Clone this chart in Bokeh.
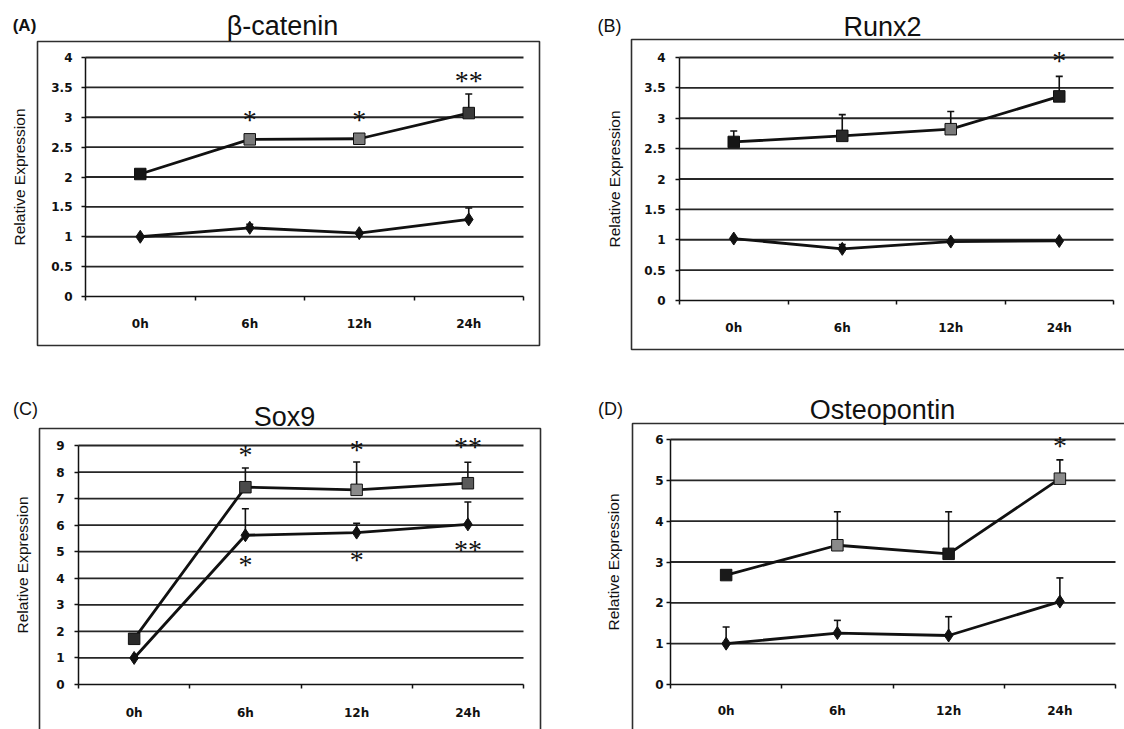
from bokeh.plotting import figure
from bokeh.models import (Range1d, FixedTicker, Whisker, TeeHead, ColumnDataSource,
                          LabelSet, Label, BoxAnnotation)
from bokeh.layouts import column, row
from bokeh.embed import file_html
from bokeh.resources import INLINE

# ---------------- data ----------------
categories = ["0h", "6h", "12h", "24h"]

bcat_treated = [2.05, 2.63, 2.64, 3.07]
bcat_treated_err = [0.0, 0.0, 0.0, 0.32]
bcat_control = [1.00, 1.15, 1.06, 1.29]
bcat_control_err = [0.0, 0.06, 0.0, 0.19]
bcat_treated_sig = ["", "*", "*", "**"]
bcat_treated_sig_y = [0, 2.98, 2.98, 3.63]
bcat_yticks = [0, 0.5, 1, 1.5, 2, 2.5, 3, 3.5, 4]
bcat_ytick_labels = ["0", "0.5", "1", "1.5", "2", "2.5", "3", "3.5", "4"]

runx_treated = [2.61, 2.71, 2.82, 3.36]
runx_treated_err = [0.18, 0.35, 0.29, 0.33]
runx_control = [1.02, 0.85, 0.97, 0.98]
runx_control_err = [0.0, 0.07, 0.0, 0.0]
runx_treated_sig = ["", "", "", "*"]
runx_treated_sig_y = [0, 0, 0, 3.97]
runx_yticks = [0, 0.5, 1, 1.5, 2, 2.5, 3, 3.5, 4]
runx_ytick_labels = ["0", "0.5", "1", "1.5", "2", "2.5", "3", "3.5", "4"]

sox_treated = [1.72, 7.43, 7.33, 7.58]
sox_treated_err = [0.0, 0.72, 1.05, 0.79]
sox_control = [1.00, 5.62, 5.72, 6.03]
sox_control_err = [0.0, 1.0, 0.35, 0.84]
sox_treated_sig = ["", "*", "*", "**"]
sox_treated_sig_y = [0, 8.7, 8.88, 9.0]
sox_control_sig = ["", "*", "*", "**"]
sox_control_sig_y = [0, 4.56, 4.75, 5.13]
sox_yticks = [0, 1, 2, 3, 4, 5, 6, 7, 8, 9]
sox_ytick_labels = ["0", "1", "2", "3", "4", "5", "6", "7", "8", "9"]

opn_treated = [2.68, 3.41, 3.20, 5.04]
opn_treated_err = [0.0, 0.82, 1.03, 0.46]
opn_control = [1.00, 1.26, 1.20, 2.03]
opn_control_err = [0.41, 0.31, 0.46, 0.58]
opn_treated_sig = ["", "", "", "*"]
opn_treated_sig_y = [0, 0, 0, 5.88]
opn_yticks = [0, 1, 2, 3, 4, 5, 6]
opn_ytick_labels = ["0", "1", "2", "3", "4", "5", "6"]

# ---------------- styles ----------------
treated_fill_A = ["#151515", "#7a7a7a", "#7a7a7a", "#3a3a3a"]
treated_fill_B = ["#151515", "#2a2a2a", "#7a7a7a", "#1f1f1f"]
treated_fill_C = ["#2a2a2a", "#4a4a4a", "#8a8a8a", "#5a5a5a"]
treated_fill_D = ["#1a1a1a", "#8a8a8a", "#1a1a1a", "#8a8a8a"]

INK = "#111111"
GRID = "#262626"
SANS = "Liberation Sans"
TICKFONT = "DejaVu Sans"


def make_panel(letter, letter_bold, title, treated, t_err, control, c_err, sigs,
               yticks, ylabels, ymax, fills, geo):
    W, H = geo["size"]
    L, R, T, B = geo["area"]           # plot area in canvas pixels
    n = len(categories)
    ppx = (R - L) / n
    ppy = (B - T) / ymax
    x0, x1 = -L / ppx, n + (W - R) / ppx
    y0, y1 = -(H - B) / ppy, ymax + T / ppy

    def dx(px):
        return x0 + px / ppx

    def dy(py):
        return y1 - py / ppy

    p = figure(width=W, height=H, min_border=0,
               x_range=Range1d(x0, x1), y_range=Range1d(y0, y1),
               output_backend="svg", toolbar_location=None, tools="")
    p.outline_line_color = None
    p.background_fill_color = "white"
    p.border_fill_color = "white"
    p.xgrid.visible = False
    p.ygrid.visible = False

    xs = [i + 0.5 for i in range(n)]

    # horizontal gridlines across the plot area
    gy = [t for t in yticks if t > 0]
    p.segment(x0=[0] * len(gy), x1=[n] * len(gy), y0=gy, y1=gy,
              line_color=GRID, line_width=1.8, level="underlay")

    # x axis at y = 0
    p.xaxis.fixed_location = 0
    p.xaxis.bounds = (0, n)
    p.xaxis.ticker = FixedTicker(ticks=xs, minor_ticks=list(range(n + 1)))
    p.xaxis.major_label_overrides = {x: c for x, c in zip(xs, categories)}
    p.xaxis.major_tick_out = 0
    p.xaxis.major_tick_in = 0
    p.xaxis.minor_tick_out = 4
    p.xaxis.minor_tick_in = 0
    p.xaxis.major_label_standoff = geo["xstand"]
    p.xaxis.major_label_text_font = TICKFONT
    p.xaxis.major_label_text_font_style = "bold"
    p.xaxis.major_label_text_font_size = "12px"
    p.xaxis.major_label_text_color = INK
    p.xaxis.axis_line_color = INK
    p.xaxis.axis_line_width = 1.5
    p.xaxis.minor_tick_line_color = INK
    p.xaxis.minor_tick_line_width = 1.5

    # y axis at x = 0
    p.yaxis.fixed_location = 0
    p.yaxis.bounds = (0, ymax)
    p.yaxis.ticker = FixedTicker(ticks=yticks)
    p.yaxis.major_label_overrides = {t: s for t, s in zip(yticks, ylabels)}
    p.yaxis.major_tick_out = 4
    p.yaxis.major_tick_in = 0
    p.yaxis.minor_tick_line_color = None
    p.yaxis.major_label_standoff = geo["ystand"]
    p.yaxis.major_label_text_font = TICKFONT
    p.yaxis.major_label_text_font_style = "bold"
    p.yaxis.major_label_text_font_size = "12px"
    p.yaxis.major_label_text_color = INK
    p.yaxis.axis_line_color = INK
    p.yaxis.axis_line_width = 1.5
    p.yaxis.major_tick_line_color = INK
    p.yaxis.major_tick_line_width = 1.5
    p.yaxis.axis_label = "Relative Expression"
    p.yaxis.axis_label_text_font = SANS
    p.yaxis.axis_label_text_font_style = "normal"
    p.yaxis.axis_label_text_font_size = "15.5px"
    p.yaxis.axis_label_text_color = INK
    p.yaxis.axis_label_standoff = geo["lstand"]

    # chart border box
    bl, br, bt, bb = geo["box"]
    box = BoxAnnotation(left=dx(bl), right=dx(br), top=dy(bt), bottom=dy(bb),
                        fill_alpha=0, line_color="#2e2e2e", line_alpha=1.0,
                        line_width=1.6)
    p.add_layout(box)

    # error bars (upper only)
    for vals, errs in ((treated, t_err), (control, c_err)):
        ex = [x for x, e in zip(xs, errs) if e > 0]
        lo = [v for v, e in zip(vals, errs) if e > 0]
        hi = [v + e for v, e in zip(vals, errs) if e > 0]
        if ex:
            src = ColumnDataSource(dict(x=ex, lo=lo, hi=hi))
            w = Whisker(base="x", lower="lo", upper="hi", source=src, dimension="height",
                        line_color=INK, line_width=1.6,
                        lower_head=None,
                        upper_head=TeeHead(size=7, line_color=INK, line_width=1.6))
            p.add_layout(w)

    # lines and markers
    p.line(xs, control, line_color=INK, line_width=2.8)
    p.scatter(xs, control, marker="diamond", size=13, fill_color=INK, line_color=INK)
    p.line(xs, treated, line_color=INK, line_width=2.8)
    p.scatter(xs, treated, marker="square", size=11.5, fill_color=fills,
              line_color="#111111", line_width=1)

    # significance asterisks
    for labels, ys in sigs:
        sx = [x for x, s in zip(xs, labels) if s]
        sy = [y for y, s in zip(ys, labels) if s]
        st = [s for s in labels if s]
        src = ColumnDataSource(dict(x=sx, y=sy, t=st))
        ls = LabelSet(x="x", y="y", text="t", source=src, text_align="center",
                      text_baseline="middle", y_offset=-1,
                      text_font=SANS, text_font_size="28px", text_color=INK)
        p.add_layout(ls)

    # panel letter and title
    lx, ly = geo["letter"]
    p.add_layout(Label(x=dx(lx), y=dy(ly), text=letter, text_align="center",
                       text_baseline="middle", text_font=SANS,
                       text_font_style="bold" if letter_bold else "normal",
                       text_font_size="17px" if letter_bold else "18px",
                       text_color=INK))
    tx, ty = geo["title"]
    p.add_layout(Label(x=dx(tx), y=dy(ty), text=title, text_align="center",
                       text_baseline="middle", text_font=SANS,
                       text_font_size="27px", text_color=INK))
    return p


geoA = dict(size=(566, 385), area=(85, 523, 57, 296), xstand=16, ystand=9, lstand=20,
            box=(37, 539, 41, 345), letter=(24, 25), title=(282, 25))
geoB = dict(size=(558, 385), area=(113, 547, 57, 300), xstand=16, ystand=10, lstand=18,
            box=(65, 570, 39, 349), letter=(43, 25), title=(316, 26))
geoC = dict(size=(566, 344), area=(78, 523, 60, 299), xstand=17, ystand=10, lstand=22,
            box=(39, 540, 43, 360), letter=(25, 23), title=(284, 31))
geoD = dict(size=(558, 344), area=(104, 549, 54, 299), xstand=15, ystand=3, lstand=30,
            box=(66, 570, 38, 360), letter=(44, 23), title=(316, 24))

pA = make_panel("(A)", True, "β-catenin", bcat_treated, bcat_treated_err,
                bcat_control, bcat_control_err,
                [(bcat_treated_sig, bcat_treated_sig_y)],
                bcat_yticks, bcat_ytick_labels, 4, treated_fill_A, geoA)
pB = make_panel("(B)", False, "Runx2", runx_treated, runx_treated_err,
                runx_control, runx_control_err,
                [(runx_treated_sig, runx_treated_sig_y)],
                runx_yticks, runx_ytick_labels, 4, treated_fill_B, geoB)
pC = make_panel("(C)", False, "Sox9", sox_treated, sox_treated_err,
                sox_control, sox_control_err,
                [(sox_treated_sig, sox_treated_sig_y), (sox_control_sig, sox_control_sig_y)],
                sox_yticks, sox_ytick_labels, 9, treated_fill_C, geoC)
pD = make_panel("(D)", False, "Osteopontin", opn_treated, opn_treated_err,
                opn_control, opn_control_err,
                [(opn_treated_sig, opn_treated_sig_y)],
                opn_yticks, opn_ytick_labels, 6, treated_fill_D, geoD)

layout = column(row(pA, pB, spacing=0), row(pC, pD, spacing=0), spacing=0)

open("out.html", "w").write(file_html(layout, INLINE))
